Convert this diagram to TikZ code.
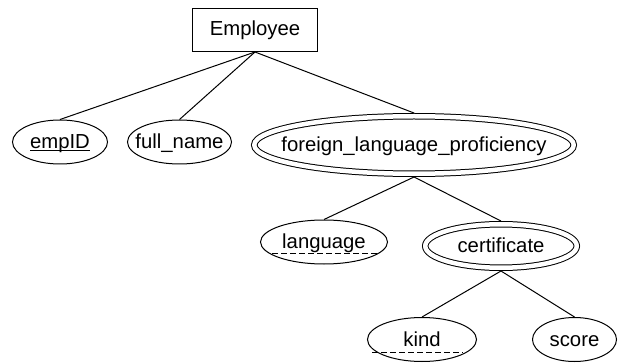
\documentclass[tikz,border=0pt]{standalone}
\usepackage{fontspec}
\setmainfont{Liberation Sans}
\usetikzlibrary{shapes.geometric,calc}

\newcommand{\attrtext}[1]{\makebox[0pt]{#1}}

\begin{document}
\begin{tikzpicture}[x=1pt,y=-1pt,line width=1pt,
    font=\fontsize{20.3}{24}\selectfont,
    entity/.style={draw,rectangle,inner sep=0pt,minimum width=125pt,minimum height=43pt},
    attr/.style={draw,ellipse,inner sep=0pt,text height=15pt,text depth=2pt},
    multiattr/.style={attr,double,double distance=4.5pt,outer sep=3.25pt},
    partkey/.style={dash pattern=on 6pt off 3pt}]
    \useasboundingbox (0,0) rectangle (620,363);

    \node[entity] at (255,30) (Employee) {Employee};

    \node[attr,minimum width=95pt,minimum height=44pt] at (60,142) (empID) {\attrtext{\underline{\smash{empID}}}};
    \node[attr,minimum width=104pt,minimum height=44pt] at (179.5,142) (fullname) {\attrtext{full\_name}};
    \node[multiattr,minimum width=319.5pt,minimum height=57.5pt] at (414,145) (proficiency) {\attrtext{foreign\_language\_proficiency}};

    \node[attr,minimum width=127pt,minimum height=44pt] at (324,242) (language) {\attrtext{language}};
    \node[multiattr,minimum width=151.5pt,minimum height=43.5pt] at (501,246) (certificate) {\attrtext{certificate}};

    \node[attr,minimum width=109pt,minimum height=44pt] at (422,339.5) (kind) {\attrtext{kind}};
    \node[attr,minimum width=84pt,minimum height=44pt] at (574.5,339.5) (score) {\attrtext{score}};

    \draw (Employee.south) to (empID.north);
    \draw (Employee.south) to (fullname.north);
    \draw (Employee.south) to (proficiency.north);
    \draw (proficiency.south) to (language.north);
    \draw (proficiency.south) to (certificate.north);
    \draw (certificate.south) to (kind.north);
    \draw (certificate.south) to (score.north);

    \draw[partkey] ($(language)+(-52,11)$) to ($(language)+(53,11)$);
    \draw[partkey] ($(kind)+(-50,13)$) to ($(kind)+(41,13)$);
  \end{tikzpicture}
\end{document}
